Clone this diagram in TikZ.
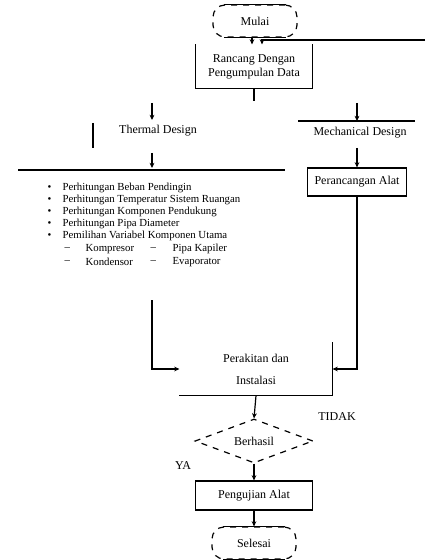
\documentclass[tikz,border=0pt]{standalone}
\usepackage{fontspec}
\setmainfont{Liberation Serif}
\usetikzlibrary{shapes.geometric,arrows.meta}
\begin{document}
\begin{tikzpicture}[x=0.5pt,y=-0.5pt,line width=0.6pt,
        font=\fontsize{6}{7}\selectfont,
        pijl/.style={-{Stealth[length=2.6pt,width=2.4pt]}},
        terminal/.style={draw,dashed,rounded corners=6pt,minimum width=42pt,minimum height=16pt},
        kotak/.style={draw,minimum width=58.5pt,minimum height=14.5pt,align=center},
        keputusan/.style={draw,dashed,diamond,aspect=2.7,minimum width=59pt,minimum height=22pt,inner sep=0pt},
        daftar/.style={anchor=west,inner sep=0pt,font=\fontsize{5.4}{6.5}\selectfont}]
        \useasboundingbox (0,0) rectangle (425,560);
        % awal
        \node[terminal] (mulai) at (255,21) {Mulai};
        \draw[solid] ([xshift=6pt]mulai.north west) -- ([xshift=-6pt]mulai.north east);
        \draw[solid] ([xshift=6pt]mulai.south west) -- ([xshift=-6pt]mulai.south east);
        \node[minimum width=58pt,minimum height=21.5pt,align=center] (data) at (254,66.5) {Rancang Dengan\\Pengumpulan Data};
        \draw (data.north west) -- (data.south west) -- (data.south east) -- (data.north east);
        \draw[pijl] ([xshift=-1.5pt]mulai.south) -- ([xshift=-1pt]data.north);
        \coordinate (balik) at (425,40);
        \draw[pijl] (balik) -| ([xshift=4pt]data.north);
        \coordinate (cabang) at (254,101);
        \draw (data.south) -- (cabang);
        % thermal design
        \coordinate (t1) at (152,103);
        \coordinate (t2) at (152,120);
        \draw[pijl] (t1) -- (t2);
        \draw (93,123) -- (93,148);
        \node (thermal) at (158,131) {Thermal Design};
        \draw[pijl] (152,153) -- (152,168);
        \draw (18,170) -- (285,170);
        \foreach \teks [count=\i] in {Perhitungan Beban Pendingin,
            Perhitungan Temperatur Sistem Ruangan,
            Perhitungan Komponen Pendukung,
            Perhitungan Pipa Diameter,
            Pemilihan Variabel Komponen Utama}{
            \node[daftar] (bul\i) at (47,176+12*\i) {\textbullet};
            \node[daftar] (item\i) at (62,176+12*\i) {\teks};
        }
        \node[daftar] (s1) at (64,249) {--};
        \node[daftar] (sub1) at (85,249) {Kompresor};
        \node[daftar] (s2) at (150,249) {--};
        \node[daftar] (sub2) at (172,249) {Pipa Kapiler};
        \node[daftar] (s3) at (64,262) {--};
        \node[daftar] (sub3) at (85,262) {Kondensor};
        \node[daftar] (s4) at (150,262) {--};
        \node[daftar] (sub4) at (172,262) {Evaporator};
        % mechanical design
        \draw[pijl] (357,103) -- (357,121);
        \draw (298,121) -- (415,121);
        \node (mech) at (360,133) {Mechanical Design};
        \node[draw,minimum width=45pt,minimum height=14pt] (alat) at (357,182) {Perancangan Alat};
        \coordinate (m1) at (357,148);
        \draw[pijl] (m1) -- (alat.north);
        % perakitan
        \node[minimum width=76pt,minimum height=26pt,align=center] (rakit) at (256,369) {Perakitan dan\\[4pt]Instalasi};
        \draw (rakit.north east) -- (rakit.south east) -- (rakit.south west);
        \draw[pijl] (alat.south) |- (rakit.east);
        \coordinate (t3) at (152,300);
        \draw[pijl] (t3) |- (rakit.west);
        % keputusan
        \node[keputusan] (hasil) at (254,441) {Berhasil};
        \draw[pijl] (rakit.south) -- (hasil.north);
        \node (tidak) at (337,417) {TIDAK};
        \node (ya) at (183,466) {YA};
        \node[kotak] (uji) at (254,495.5) {Pengujian Alat};
        \draw[pijl] (hasil.south) -- (uji.north);
        \node[terminal] (selesai) at (254,543) {Selesai};
        \draw[solid] ([xshift=6pt]selesai.north west) -- ([xshift=-6pt]selesai.north east);
        \draw[solid] ([xshift=6pt]selesai.south west) -- ([xshift=-6pt]selesai.south east);
        \draw[pijl] (uji.south) -- (selesai.north);
    \end{tikzpicture}
\end{document}
